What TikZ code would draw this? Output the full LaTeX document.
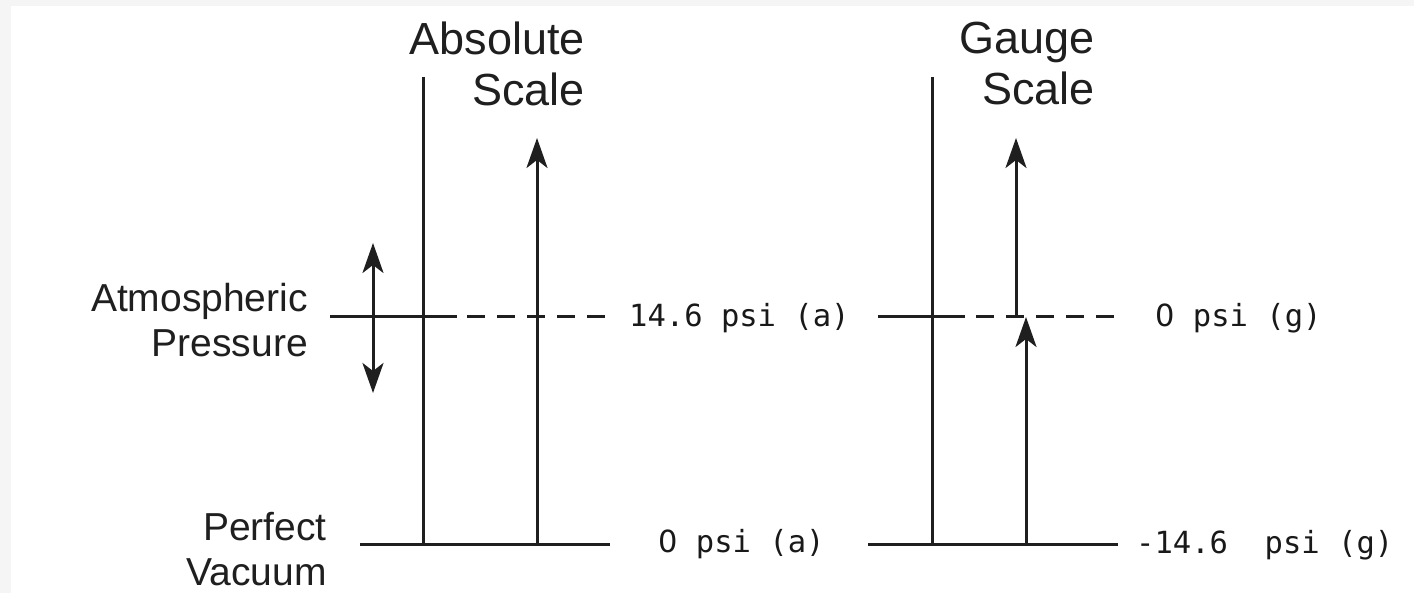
\documentclass[tikz,border=0pt]{standalone}
\usepackage{fontspec}
\setmainfont{Liberation Sans}
\newfontfamily\monof{DejaVu Sans Mono}
\newfontfamily\plainzerofont{DejaVu Sans}
\newcommand{\zr}{{\plainzerofont 0}}
\usetikzlibrary{arrows.meta}
\begin{document}
\begin{tikzpicture}[x=1pt,y=-1pt,
  ln/.style={line width=3pt, draw=black!88},
  tip/.tip={Stealth[length=30pt,width=21pt,inset=8pt]},
  arr/.style={ln, -tip},
  dbl/.style={ln, tip-tip},
  dsh/.style={ln, dash pattern=on 18pt off 12pt},
  head/.style={font=\fontsize{45}{51}\selectfont, text=black!88, align=right, inner sep=0pt, anchor=north east},
  side/.style={font=\fontsize{39}{45}\selectfont, text=black!88, align=right, inner sep=0pt, anchor=north east},
  val/.style={font=\monof\fontsize{30.5}{36}\selectfont, text=black!90, inner sep=0pt, anchor=base west}]
\useasboundingbox (0,0) rectangle (1414,593);
\fill[black!4] (0,0) rectangle (1414,593);
\fill[white] (11,6) rectangle (1414,593);

% labels
\node[head] (abs) at (585,22) {Absolute\\Scale};
\node[head] (gau) at (1095,22) {Gauge\\Scale};
\node[side] (atm) at (308,283) {Atmospheric\\Pressure};
\node[side] (vac) at (327,512) {Perfect\\Vacuum};
\node[val] (a146) at (629,327) {14.6 psi (a)};
\node[val] (g0) at (1155,327) {\zr\ psi (g)};
\node[val] (a0) at (658,552) {\zr\ psi (a)};
\node[val] (gm) at (1136,553) {-14.6\ \ psi (g)};

% coordinates
\coordinate (vAt) at (423,77);  \coordinate (vAb) at (423,544);
\coordinate (vGt) at (932,77);  \coordinate (vGb) at (932,544);
\coordinate (aAb) at (537,544); \coordinate (aAt) at (537,138);
\coordinate (gLb) at (1026,544); \coordinate (gLt) at (1026,317);
\coordinate (gUb) at (1016,317); \coordinate (gUt) at (1016,138);
\coordinate (dT) at (373,243); \coordinate (dB) at (373,393);
\coordinate (hL1) at (330,317); \coordinate (hL2) at (457,317);
\coordinate (hL3) at (467,317); \coordinate (hL4) at (605,317);
\coordinate (hR1) at (878,317); \coordinate (hR2) at (965,317);
\coordinate (hR3) at (976,317); \coordinate (hR4) at (1114,317);
\coordinate (bL1) at (360,544); \coordinate (bL2) at (610,544);
\coordinate (bR1) at (868,544); \coordinate (bR2) at (1118,544);

% scales
\draw[ln] (vAt) -- (vAb);
\draw[ln] (vGt) -- (vGb);
\draw[arr] (aAb) -- (aAt);
\draw[arr] (gLb) -- (gLt);
\draw[arr] (gUb) -- (gUt);
\draw[dbl] (dB) -- (dT);

% horizontal levels
\draw[ln] (hL1) -- (hL2);
\draw[dsh] (hL3) -- (hL4);
\draw[ln] (hR1) -- (hR2);
\draw[dsh] (hR3) -- (hR4);
\draw[ln] (bL1) -- (bL2);
\draw[ln] (bR1) -- (bR2);
\end{tikzpicture}
\end{document}
